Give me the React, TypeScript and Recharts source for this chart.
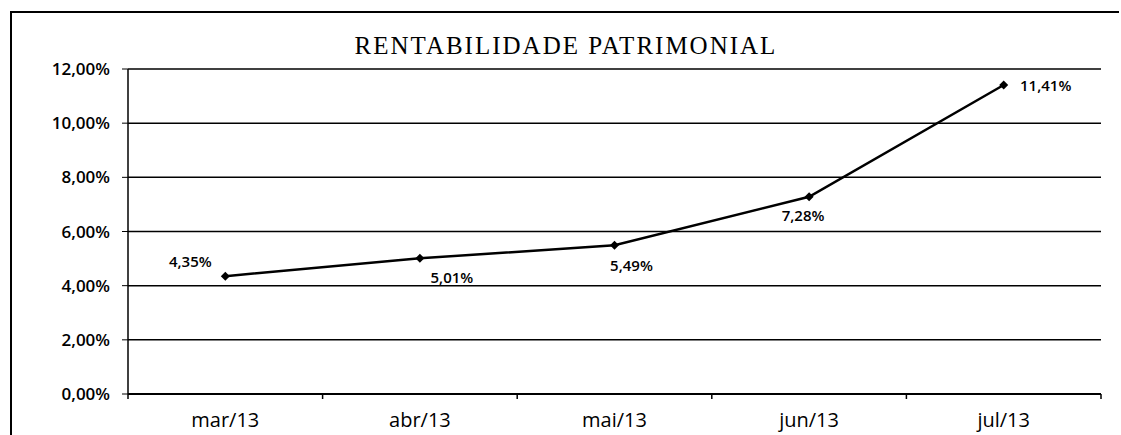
import React from 'react';
import { LineChart, Line, XAxis, YAxis, CartesianGrid, LabelList } from 'recharts';

const months = ['mar/13', 'abr/13', 'mai/13', 'jun/13', 'jul/13'];
const rentabilidade = [4.35, 5.01, 5.49, 7.28, 11.41];
const yTicks = [0, 2, 4, 6, 8, 10, 12];
// label offsets per point, like the excel chart
const labelDx = [-35, 32, 17, -6, 42];
const labelDy = [-15, 19, 20, 18, 0];

const data = months.map((m, i) => ({ month: m, pos: i + 0.5, value: rentabilidade[i] }));
const xTicks = [0, 0.5, 1, 1.5, 2, 2.5, 3, 3.5, 4, 4.5, 5];

const fmt = (v: number) => v.toFixed(2).replace('.', ',') + '%';
const font = '"Open Sans", sans-serif';

function XTick(props: any) {
  const { x, y, payload } = props;
  const v = payload.value as number;
  if (Number.isInteger(v)) {
    return <line x1={x} x2={x} y1={y} y2={y + 5} stroke="#000" strokeWidth={1.5} />;
  }
  return (
    <text x={x} y={y + 33} textAnchor="middle" fontFamily={font} fontSize={20} fill="#000">
      {months[Math.floor(v)]}
    </text>
  );
}

function Diamond(props: any) {
  const { cx, cy } = props;
  const r = 4.5;
  return <path d={`M${cx},${cy - r}L${cx + r},${cy}L${cx},${cy + r}L${cx - r},${cy}Z`} fill="#000" />;
}

function PointLabel(props: any) {
  const { x, y, index, value } = props;
  return (
    <text x={x + labelDx[index]} y={y + labelDy[index]} textAnchor="middle" dominantBaseline="central"
      fontFamily={font} fontSize={15} fontWeight={600} fill="#000">
      {fmt(value)}
    </text>
  );
}

export default function App() {
  return (
    <div style={{ position: 'absolute', left: 0, top: 0, width: 1121, height: 435, background: '#fff' }}>
      <div style={{ position: 'absolute', left: 10, top: 11, width: 1107, height: 424, borderTop: '2px solid #000', borderLeft: '2px solid #000' }} />
      <LineChart width={1121} height={435} data={data} margin={{ top: 69, right: 20, left: 0, bottom: 11 }}>
        <text x={566} y={45} textAnchor="middle" dominantBaseline="central" fontFamily='"Liberation Serif", serif' fontSize={25} letterSpacing={2} fill="#000">
          RENTABILIDADE PATRIMONIAL
        </text>
        <CartesianGrid vertical={false} stroke="#000" strokeWidth={1.5} />
        <XAxis type="number" dataKey="pos" domain={[0, 5]} ticks={xTicks} interval={0} height={30}
          tickSize={0} tickMargin={0} tickLine={false} axisLine={{ stroke: '#000', strokeWidth: 2 }} tick={<XTick />} />
        <YAxis domain={[0, 12]} ticks={yTicks} width={128} tickFormatter={fmt} interval={0}
          axisLine={{ stroke: '#000', strokeWidth: 1.5 }} tickLine={{ stroke: '#000' }} tickSize={6} tickMargin={12}
          tick={{ fontFamily: font, fontSize: 17, fontWeight: 600, fill: '#000' }} />
        <YAxis yAxisId="right" orientation="right" width={0} tick={false} tickLine={false}
          axisLine={{ stroke: '#000', strokeWidth: 1.5 }} />
        <Line dataKey="value" stroke="#000" strokeWidth={2.5} dot={<Diamond />} activeDot={false} isAnimationActive={false}>
          <LabelList dataKey="value" content={<PointLabel />} />
        </Line>
      </LineChart>
    </div>
  );
}
